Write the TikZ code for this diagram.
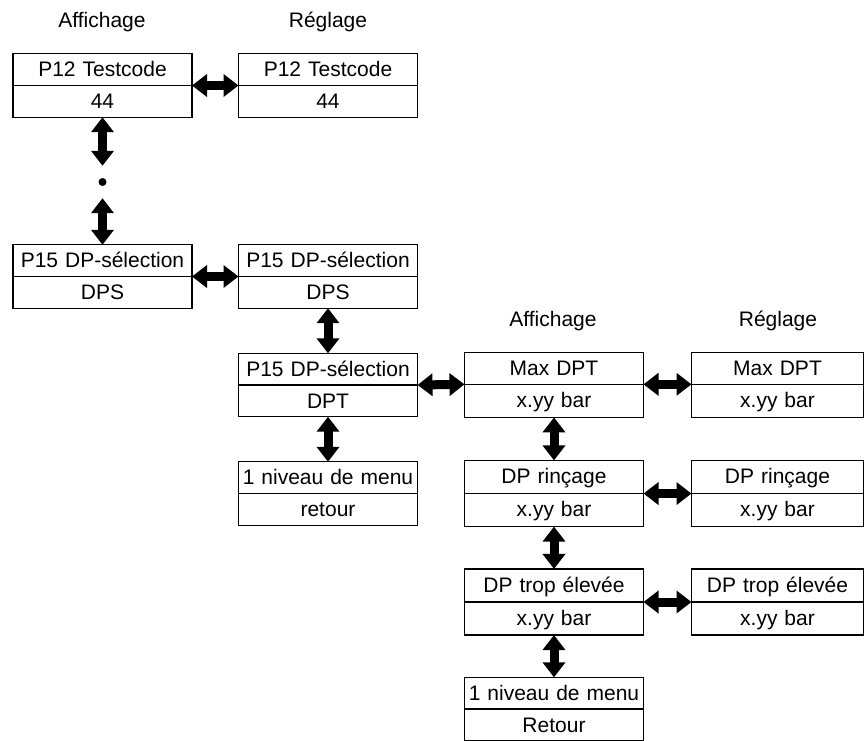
\documentclass[tikz,border=0pt]{standalone}
\usepackage{fontspec}
\setmainfont{Liberation Sans}
\usetikzlibrary{shapes.multipart,arrows.meta}
% une ligne d'affichage a hauteur fixe
\newcommand{\ligne}{\rule[-3pt]{0pt}{20.5pt}}
\newcommand{\ecran}[2]{\ligne#1\nodepart{two}\ligne#2}
\begin{document}
\begin{tikzpicture}[x=1pt, y=-1pt,
  every node/.style = {font=\fontsize{21}{25}\selectfont},
  menubox/.style = {shape=rectangle split, rectangle split parts=2,
    draw, line width=1.2pt, align=center,
    text width=179pt, inner xsep=0pt, inner ysep=5pt, outer sep=0pt},
  narrowbox/.style = {menubox, text width=172pt},
  biarrow/.style = {{Triangle[length=15pt,width=22pt]}-{Triangle[length=15pt,width=22pt]},
    line width=9pt},
  dot/.style = {shape=circle, fill, inner sep=0pt, minimum size=8pt}]
  \useasboundingbox (0,0) rectangle (865,740);
  % titres
  \node (aff1) at (102,22) {Affichage};
  \node (reg1) at (328,22) {Réglage};
  \node (aff2) at (553,321) {Affichage};
  \node (reg2) at (778,321) {Réglage};
  % premier niveau
  \node[menubox] (p12a) at (102.5,85.5) {\ecran{P12 Testcode}{44}};
  \node[menubox] (p12b) at (328,85.5) {\ecran{P12 Testcode}{44}};
  \node[dot] (etc) at (102.5,182) {};
  \node[menubox] (p15a) at (102.5,276.5) {\ecran{P15 DP-sélection}{DPS}};
  \node[menubox] (p15b) at (328,276.5) {\ecran{P15 DP-sélection}{DPS}};
  \node[menubox] (p15c) at (328,385) {\ecran{P15 DP-sélection}{DPT}};
  \node[menubox] (ret1) at (328,493.5) {\ecran{1 niveau de menu}{retour}};
  % second niveau
  \node[menubox] (maxa) at (554,385) {\ecran{Max DPT}{x.yy bar}};
  \node[narrowbox] (maxb) at (777.5,385) {\ecran{Max DPT}{x.yy bar}};
  \node[menubox] (rina) at (554,493.5) {\ecran{DP rinçage}{x.yy bar}};
  \node[narrowbox] (rinb) at (777.5,493.5) {\ecran{DP rinçage}{x.yy bar}};
  \node[menubox] (elea) at (554,602) {\ecran{DP trop élevée}{x.yy bar}};
  \node[narrowbox] (eleb) at (777.5,602) {\ecran{DP trop élevée}{x.yy bar}};
  \node[menubox] (ret2) at (554,709) {\ecran{1 niveau de menu}{Retour}};
  % fleches
  \draw[biarrow] (p12a.one split east) -- (p12b.one split west);
  \draw[biarrow, shorten >=12pt] (p12a.south) -- (etc.north);
  \draw[biarrow, shorten <=12pt] (etc.south) -- (p15a.north);
  \draw[biarrow] (p15a.one split east) -- (p15b.one split west);
  \draw[biarrow] (p15b.south) -- (p15c.north);
  \draw[biarrow] (p15c.south) -- (ret1.north);
  \draw[biarrow] (p15c.one split east) -- (maxa.one split west);
  \draw[biarrow] (maxa.one split east) -- (maxb.one split west);
  \draw[biarrow] (maxa.south) -- (rina.north);
  \draw[biarrow] (rina.one split east) -- (rinb.one split west);
  \draw[biarrow] (rina.south) -- (elea.north);
  \draw[biarrow] (elea.one split east) -- (eleb.one split west);
  \draw[biarrow] (elea.south) -- (ret2.north);
\end{tikzpicture}
\end{document}
